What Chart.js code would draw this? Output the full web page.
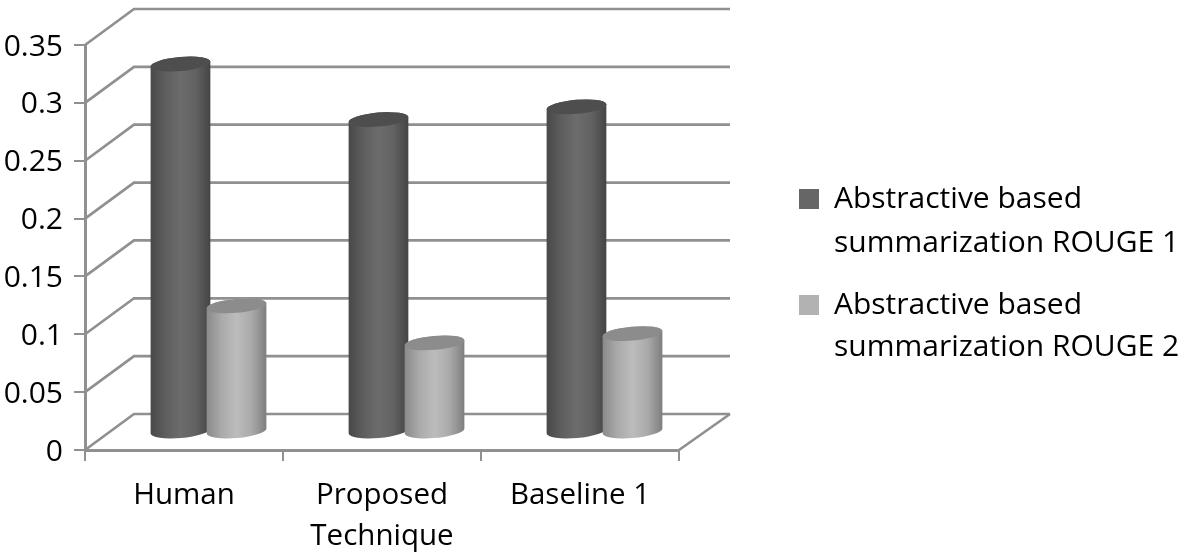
<!DOCTYPE html>
<html>
<head>
<meta charset="utf-8">
<style>
    html, body { margin: 0; padding: 0; background: #fff; }
    canvas { display: block; }
</style>
<script src="https://cdn.jsdelivr.net/npm/chart.js@4"></script>
</head>
<body>
<canvas id="rouge" width="1182" height="558"></canvas>
<script>
const categories = ['Human', ['Proposed', 'Technique'], 'Baseline 1'];
const rouge1 = [0.318, 0.27, 0.281];
const rouge2 = [0.109, 0.077, 0.085];
const yTicks = ['0', '0.05', '0.1', '0.15', '0.2', '0.25', '0.3', '0.35'];
const seriesNames = [
    ['Abstractive based', 'summarization ROUGE 1'],
    ['Abstractive based', 'summarization ROUGE 2']
];
const seriesColors = ['#666666', '#b2b2b2'];
const sideStops = [
    ['#484848', '#5e5e5e', '#6c6c6c', '#626262', '#444444'],
    ['#8a8a8a', '#aaaaaa', '#bcbcbc', '#aaaaaa', '#7e7e7e']
];
const capColors = ['#4e4e4e', '#8c8c8c'];

const FONT = '"Open Sans"';
const lineColor = '#909090';
const depth = {x: 49, y: -36};

// the walls and the cylinders are not something bar charts do, so draw them here
const cylinders = {
    id: 'cylinders',
    beforeDatasetsDraw(chart) {
        const {ctx, scales} = chart;
        const y = scales.y;
        const area = chart.chartArea;

        ctx.save();
        ctx.strokeStyle = lineColor;
        ctx.lineWidth = 2.7;
        y.ticks.forEach(t => {
            const py = y.getPixelForValue(t.value);
            ctx.beginPath();
            ctx.moveTo(area.left, py);
            ctx.lineTo(area.left + depth.x, py + depth.y);
            ctx.lineTo(area.right + depth.x + 2, py + depth.y);
            ctx.stroke();
        });
        const floor = y.getPixelForValue(0);
        ctx.beginPath();
        ctx.moveTo(area.right, floor);
        ctx.lineTo(area.right + depth.x + 2, floor + depth.y);
        ctx.stroke();

        const rot = -5 * Math.PI / 180;
        const ry = 7;
        chart.data.datasets.forEach((ds, i) => {
            chart.getDatasetMeta(i).data.forEach(bar => {
                const cx = bar.x + depth.x / 2;
                const top = bar.y + depth.y / 2;
                const base = bar.base + depth.y / 2;
                const rx = bar.width / 2;
                const grad = ctx.createLinearGradient(cx - rx, 0, cx + rx, 0);
                sideStops[i].forEach((c, k) => grad.addColorStop(k / (sideStops[i].length - 1), c));
                ctx.beginPath();
                ctx.ellipse(cx, base, rx, ry, rot, 0, Math.PI);
                ctx.ellipse(cx, top, rx, ry, rot, Math.PI, Math.PI * 2);
                ctx.closePath();
                ctx.fillStyle = grad;
                ctx.fill();
                ctx.beginPath();
                ctx.ellipse(cx, top, rx, ry, rot, 0, Math.PI * 2);
                ctx.fillStyle = capColors[i];
                ctx.fill();
            });
        });
        ctx.restore();
        return false;
    },
    afterDraw(chart) {
        const {ctx} = chart;
        ctx.save();
        ctx.font = '30px ' + FONT;
        ctx.textBaseline = 'alphabetic';
        const rows = [[189, 208, 252], [295, 314, 356]];
        seriesNames.forEach((lines, i) => {
            ctx.fillStyle = seriesColors[i];
            ctx.fillRect(799, rows[i][0], 20, 20);
            ctx.fillStyle = '#000';
            lines.forEach((txt, k) => ctx.fillText(txt, 834, rows[i][k + 1]));
        });
        ctx.restore();
    }
};

new Chart(document.getElementById('rouge').getContext('2d'), {
    type: 'bar',
    data: {
        labels: categories,
        datasets: [
            {label: seriesNames[0].join(' '), data: rouge1, backgroundColor: seriesColors[0]},
            {label: seriesNames[1].join(' '), data: rouge2, backgroundColor: seriesColors[1]}
        ]
    },
    plugins: [cylinders],
    options: {
        responsive: false,
        animation: false,
        categoryPercentage: 0.566,
        barPercentage: 1.07,
        layout: {padding: {top: 45, right: 503, bottom: 0, left: 0}},
        plugins: {legend: {display: false}, tooltip: {enabled: false}},
        scales: {
            x: {
                afterFit: s => { s.height = 108; },
                grid: {drawOnChartArea: false, color: lineColor, lineWidth: 2, tickLength: 11},
                border: {color: lineColor, width: 3},
                ticks: {
                    autoSkip: false, maxRotation: 0, padding: 14, color: '#000',
                    font: {family: FONT, size: 29.5, lineHeight: 1.39}
                }
            },
            y: {
                min: 0,
                max: 0.35,
                afterFit: s => { s.width = 85; },
                grid: {drawOnChartArea: false, color: lineColor, lineWidth: 2, tickLength: 11},
                border: {color: lineColor, width: 3},
                ticks: {
                    stepSize: 0.05, padding: 11, color: '#000', labelOffset: 2,
                    font: {family: FONT, size: 30},
                    callback: (v, i) => yTicks[i]
                }
            }
        }
    }
});
</script>
</body>
</html>
